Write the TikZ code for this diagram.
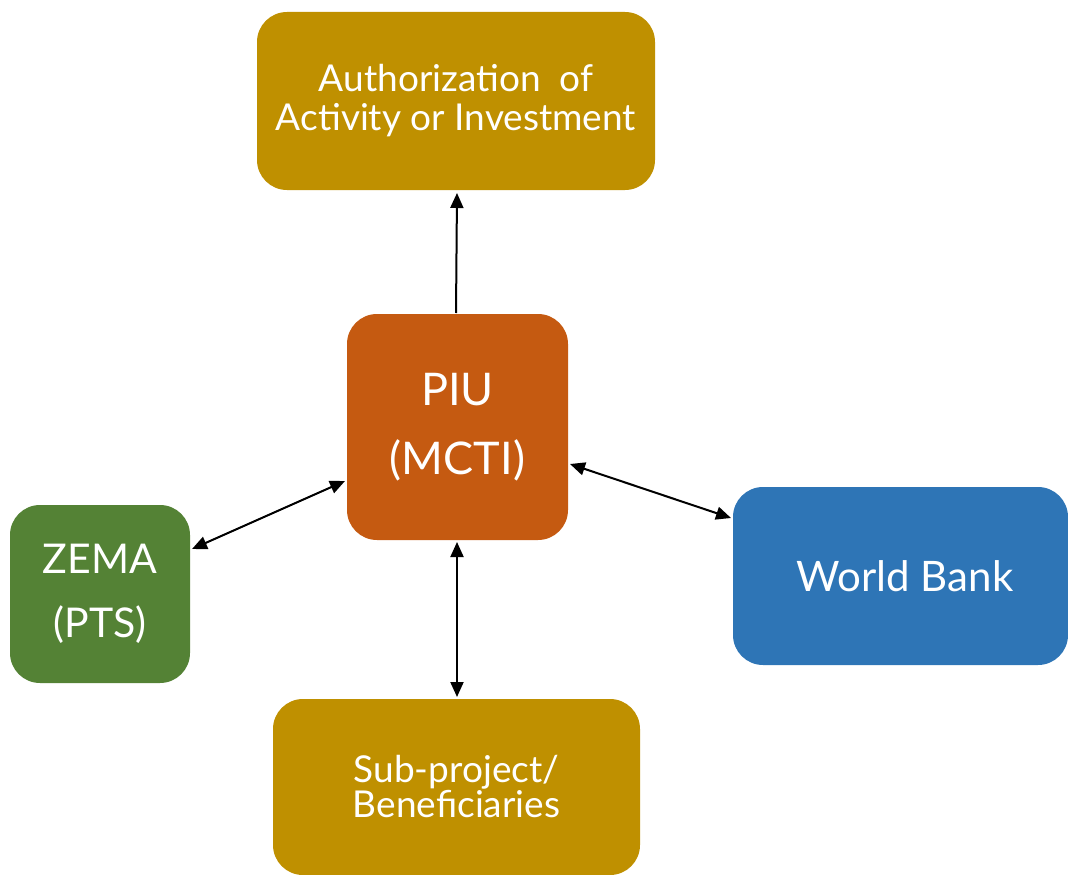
\documentclass[tikz,border=0pt]{standalone}
\usepackage{fontspec}
\setmainfont{Lato}
\usetikzlibrary{arrows.meta}
\definecolor{gold}{HTML}{BF9000}
\definecolor{rust}{HTML}{C55A11}
\definecolor{leaf}{HTML}{548235}
\definecolor{sky}{HTML}{2E75B6}
\tikzset{
  box/.style={rounded corners=30pt, text=white, align=center, inner sep=0pt, anchor=center},
  link/.style={line width=2pt, draw=black, -{Triangle[length=15pt,width=13pt]}},
  dlink/.style={line width=2pt, draw=black, {Triangle[length=15pt,width=13pt]}-{Triangle[length=15pt,width=13pt]}}
}
\begin{document}
\begin{tikzpicture}[x=1pt,y=-1pt]
\useasboundingbox (0,0) rectangle (1068,875);
\node[box, fill=gold, minimum width=398pt, minimum height=178pt,
  font={\fontsize{37}{39}\selectfont}] (auth) at (456,101)
  {Authorization\ \ of\\ Activity or Investment};
\node[box, fill=rust, minimum width=221pt, minimum height=226pt,
  font={\fontsize{45}{69}\selectfont}] (piu) at (457.5,427)
  {PIU\\ (MCTI)};
\node[box, fill=leaf, minimum width=180pt, minimum height=178pt,
  font={\fontsize{41}{64}\selectfont}] (zema) at (100,594)
  {ZEMA\\ (PTS)};
\node[box, fill=sky, minimum width=335pt, minimum height=178pt,
  font={\fontsize{42}{48}\selectfont}] (wb) at (900.5,576)
  {\hspace*{9pt}World Bank};
\node[box, fill=gold, minimum width=367pt, minimum height=176pt,
  font={\fontsize{37}{35}\selectfont}] (sub) at (456.5,787)
  {Sub-project/\\ Beneficiaries};
\coordinate (piuT) at (456,313);
\coordinate (authB) at (457,193);
\draw[link] (piuT) -- (authB);
\coordinate (piuL) at (345,481);
\coordinate (zemaR) at (192,549);
\draw[dlink] (piuL) -- (zemaR);
\coordinate (piuR) at (570,464);
\coordinate (wbL) at (731,518);
\draw[dlink] (piuR) -- (wbL);
\coordinate (piuB) at (457,542);
\coordinate (subT) at (457,697);
\draw[dlink] (piuB) -- (subT);
\end{tikzpicture}
\end{document}
